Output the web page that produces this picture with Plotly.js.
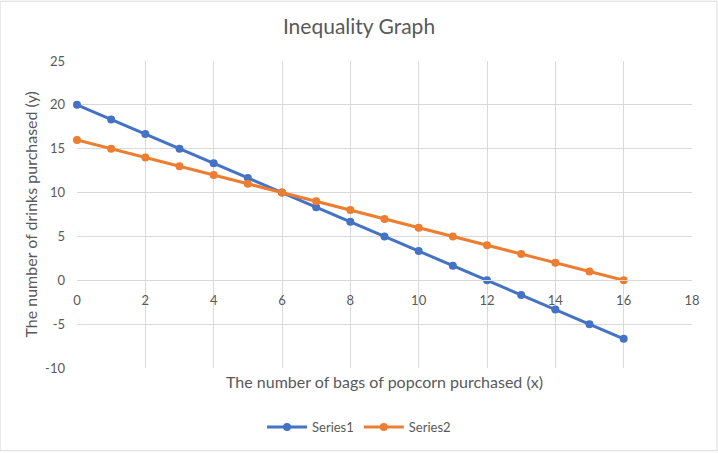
<!DOCTYPE html>
<html>
<head>
<meta charset="utf-8">
<script src="https://cdn.plot.ly/plotly-3.0.1.min.js"></script>
<style>html,body{margin:0;padding:0;background:#fff;}#chart{width:718px;height:453px;}</style>
</head>
<body>
<div id="chart"></div>
<script>
var xValues = [0,1,2,3,4,5,6,7,8,9,10,11,12,13,14,15,16];
var series1 = [20,18.33,16.67,15,13.33,11.67,10,8.33,6.67,5,3.33,1.67,0,-1.67,-3.33,-5,-6.67];
var series2 = [16,15,14,13,12,11,10,9,8,7,6,5,4,3,2,1,0];
var seriesNames = ["Series1","Series2"];
var yTickVals = [-10,-5,0,5,10,15,20,25];
var yTickText = ["-10","-5","0","5","10","15","20","25"];
var chartTitle = "Inequality Graph";
var xTitle = "The number of bags of popcorn purchased (x)";
var yTitle = "The number of drinks purchased (y)";

var font = "Lato, Carlito, 'Liberation Sans', sans-serif";
var grey = "#595959";

var traces = [
  {x: xValues, y: series1, name: seriesNames[0], type: "scatter", mode: "lines+markers",
   line: {color: "#4472C4", width: 3}, marker: {color: "#4472C4", size: 8}, cliponaxis: false},
  {x: xValues, y: series2, name: seriesNames[1], type: "scatter", mode: "lines+markers",
   line: {color: "#ED7D31", width: 3}, marker: {color: "#ED7D31", size: 8}, cliponaxis: false}
];

var layout = {
  width: 718, height: 453,
  margin: {l: 77, r: 26, t: 61, b: 84},
  paper_bgcolor: "#fff", plot_bgcolor: "#fff",
  font: {family: font, color: grey, size: 13},
  title: {text: chartTitle, font: {family: font, size: 21, color: grey}, xref: "container", x: 0.5, xanchor: "center", yref: "container", y: 1 - 27/453, yanchor: "middle"},
  xaxis: {range: [0, 18], dtick: 2, tick0: 0, anchor: "free", position: 10/35,
    showgrid: true, gridcolor: "#d9d9d9", gridwidth: 1, zeroline: false,
    showline: true, linecolor: "#d9d9d9", linewidth: 1, ticks: "", ticklabelstandoff: 8,
    tickfont: {family: font, size: 13, color: grey}},
  yaxis: {range: [-10, 25], tickmode: "array", tickvals: yTickVals, ticktext: yTickText,
    showgrid: true, gridcolor: "#d9d9d9", gridwidth: 1, zeroline: false,
    showline: false, ticks: "", ticklabelstandoff: 11,
    tickfont: {family: font, size: 13, color: grey}},
  showlegend: true,
  legend: {orientation: "h", x: 0.5 - (384.5-359)/615.5, xanchor: "center", xref: "paper", y: -58/308, yanchor: "middle",
    font: {family: font, size: 13, color: grey}, itemwidth: 40},
  annotations: [
    {text: xTitle, xref: "paper", yref: "paper", x: (385 - 77)/615.5, y: -14/308, xanchor: "center", yanchor: "middle", showarrow: false, font: {family: font, size: 16, color: grey}},
    {text: yTitle, xref: "paper", yref: "paper", x: (30 - 77)/615.5, y: 0.5, xanchor: "center", yanchor: "middle", textangle: -90, showarrow: false, font: {family: font, size: 16, color: grey}}
  ],
  shapes: [
    {type: "rect", xref: "paper", yref: "paper", x0: -77/615.5, x1: 1 + 25/615.5, y0: -83/308, y1: 1 + 60/308, line: {color: "#d9d9d9", width: 1}, fillcolor: "rgba(0,0,0,0)", layer: "below"}
  ]
};

Plotly.newPlot("chart", traces, layout, {displayModeBar: false, staticPlot: true});
</script>
</body>
</html>
